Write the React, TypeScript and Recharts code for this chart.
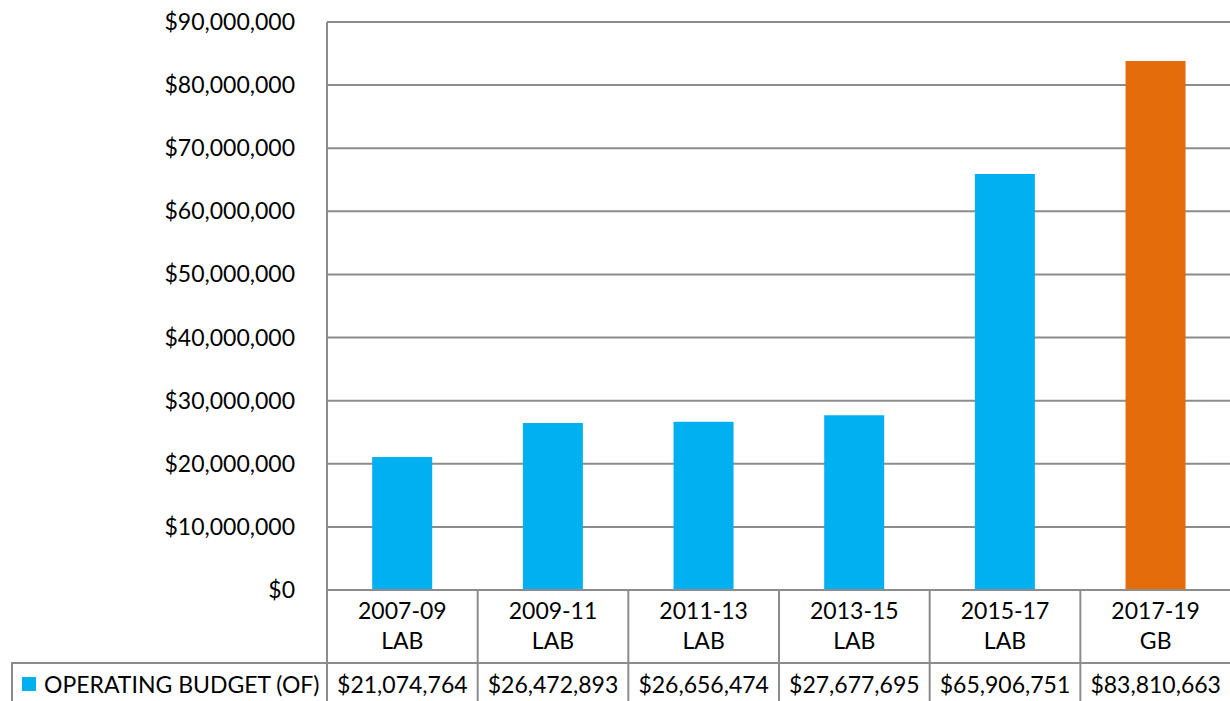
import { BarChart, Bar, XAxis, YAxis, CartesianGrid, Cell } from "recharts";

// Biennial operating budget, other funds
const periods = ["2007-09", "2009-11", "2011-13", "2013-15", "2015-17", "2017-19"];
const budgetTypes = ["LAB", "LAB", "LAB", "LAB", "LAB", "GB"];
const budgetValues = [21074764, 26472893, 26656474, 27677695, 65906751, 83810663];
const yTicks = [0, 10000000, 20000000, 30000000, 40000000, 50000000, 60000000, 70000000, 80000000, 90000000];
const seriesName = "OPERATING BUDGET (OF)";

const BLUE = "#00B0F0";
const ORANGE = "#E46C0A";
const LINE = "#8c8c8c";
const FONT = "Lato, 'Open Sans', sans-serif";
const FONT_SIZE = 23;

const W = 1230;
const H = 701;
const MARGIN = { top: 22, right: -1, left: 0, bottom: 0 };
const Y_WIDTH = 327;
const X_HEIGHT = 111;

const data = periods.map((p, i) => ({
  period: p,
  kind: budgetTypes[i],
  value: budgetValues[i],
}));

const money = (v: number) => "$" + v.toLocaleString("en-US");

// The data table under the plot: one column per category tick
function TableTick({ x, y, index }: any) {
  const half = (W - Y_WIDTH - MARGIN.right) / periods.length / 2;
  const rowSplit = y + 73;
  const bottom = y + X_HEIGHT;
  const d = data[index];
  const left = x - half;
  const right = x + half;
  return (
    <g>
      <line x1={left} y1={y} x2={left} y2={bottom} stroke={LINE} strokeWidth={2} />
      <line x1={index === 0 ? 11 : left} y1={rowSplit} x2={right} y2={rowSplit} stroke={LINE} strokeWidth={2} />
      <text x={x} y={y + 29} textAnchor="middle" fontFamily={FONT} fontSize={FONT_SIZE} fill="#000">
        {d.period}
      </text>
      <text x={x} y={y + 59} textAnchor="middle" fontFamily={FONT} fontSize={FONT_SIZE} fill="#000">
        {d.kind}
      </text>
      <text x={x} y={rowSplit + 30} textAnchor="middle" fontFamily={FONT} fontSize={FONT_SIZE} fill="#000">
        {money(d.value)}
      </text>
      {index === 0 && (
        <g>
          <line x1={12} y1={rowSplit} x2={12} y2={bottom} stroke={LINE} strokeWidth={2} />
          <rect x={22} y={rowSplit + 14} width={14} height={14} fill={BLUE} />
          <text x={44} y={rowSplit + 30} fontFamily={FONT} fontSize={FONT_SIZE} fill="#000">
            {seriesName}
          </text>
        </g>
      )}
    </g>
  );
}

function YTick({ x, y, payload }: any) {
  return (
    <text x={x - 30} y={y + 8} textAnchor="end" fontFamily={FONT} fontSize={FONT_SIZE} fill="#000">
      {money(payload.value)}
    </text>
  );
}

export default function App() {
  return (
    <div style={{ position: "absolute", left: 0, top: 0, width: W, height: H, background: "#fff", overflow: "hidden" }}>
      <BarChart width={W} height={H} data={data} margin={MARGIN} barCategoryGap="30%">
        <CartesianGrid vertical={false} stroke={LINE} strokeWidth={2} />
        <XAxis
          dataKey="period"
          height={X_HEIGHT}
          tickSize={0}
          tickMargin={0}
          tickLine={false}
          axisLine={{ stroke: LINE, strokeWidth: 2 }}
          interval={0}
          tick={<TableTick />}
        />
        <YAxis
          width={Y_WIDTH}
          domain={[0, 90000000]}
          ticks={yTicks}
          tickSize={0}
          tickLine={false}
          axisLine={{ stroke: LINE, strokeWidth: 2 }}
          tick={<YTick />}
        />
        <Bar dataKey="value" isAnimationActive={false}>
          {data.map((d, i) => (
            <Cell key={d.period} fill={i === data.length - 1 ? ORANGE : BLUE} />
          ))}
        </Bar>
      </BarChart>
    </div>
  );
}
